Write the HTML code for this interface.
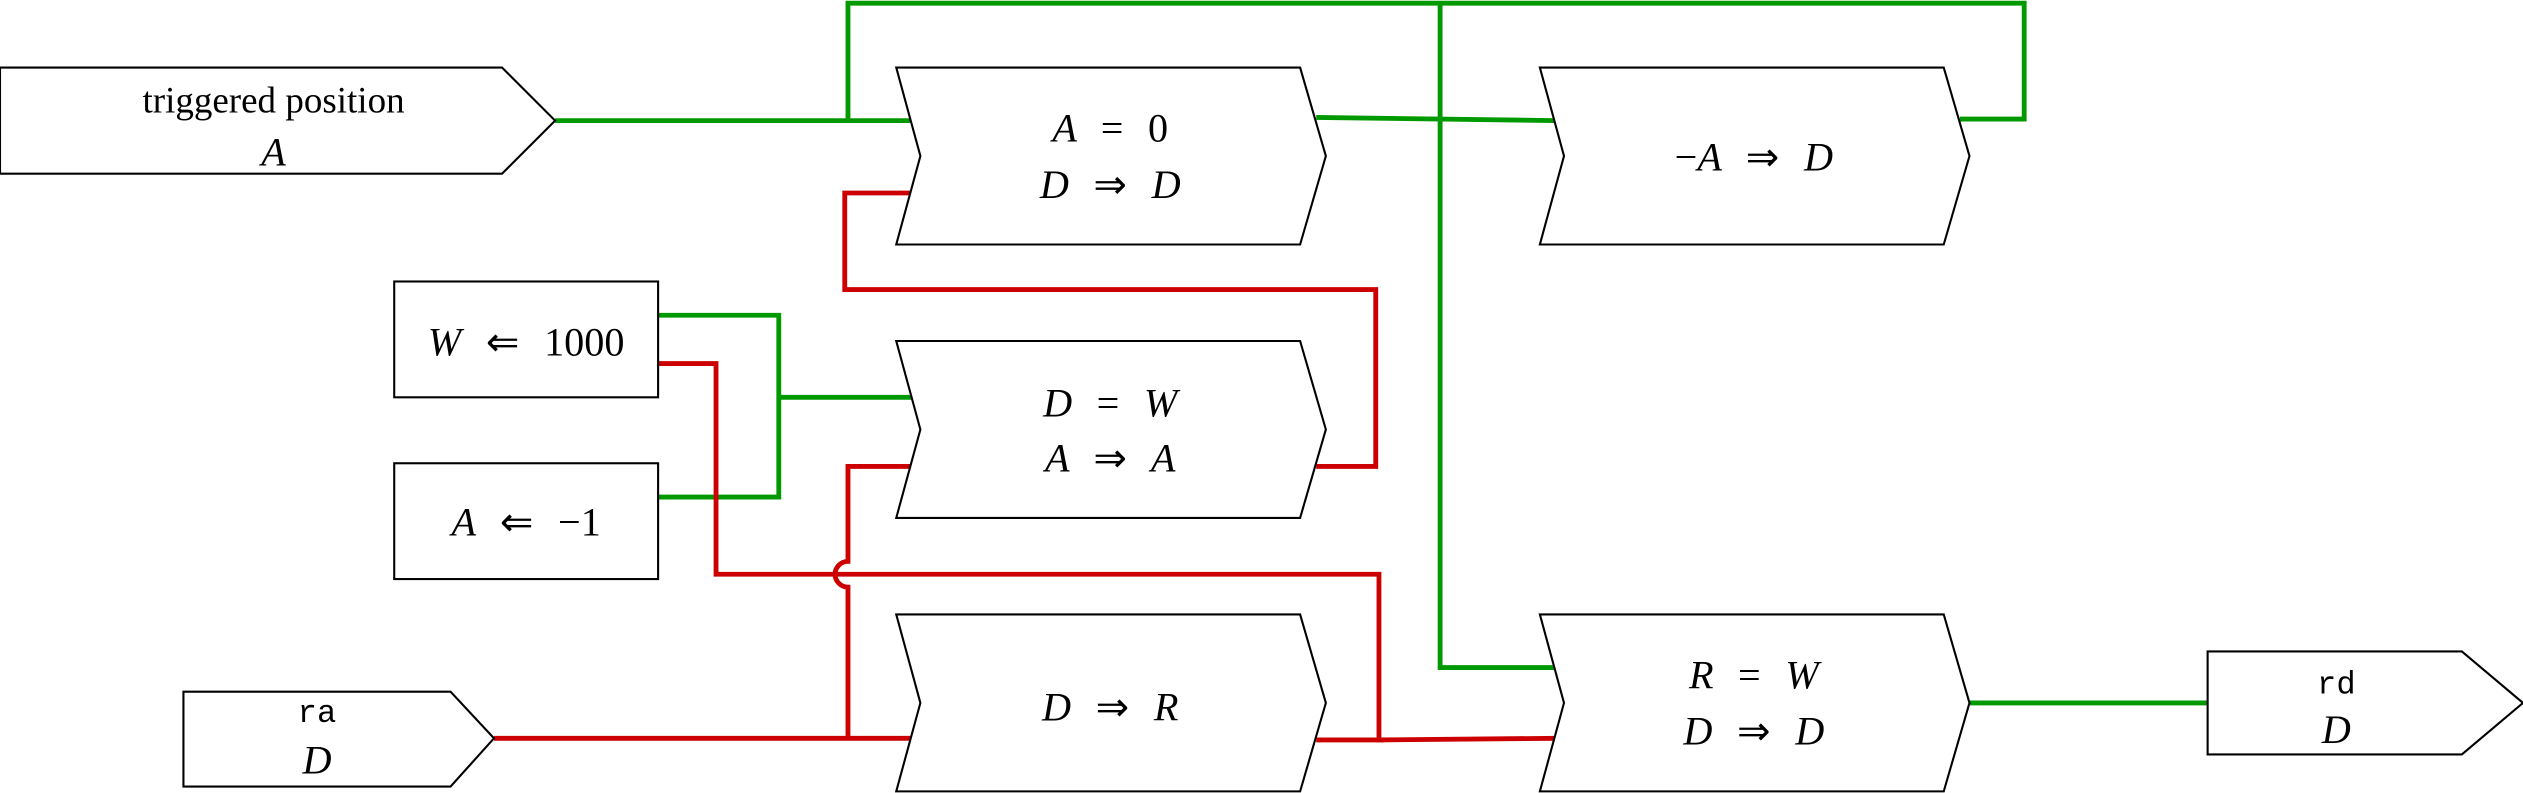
<!DOCTYPE html>
<html><head><meta charset="utf-8"><style>
html,body{margin:0;padding:0;background:#fff;}
svg{display:block;}
text{font-family:"Liberation Serif",serif;font-size:23px;fill:#000;}
.m{font-style:italic;font-size:25px;word-spacing:9px;}
.u{font-style:normal;}
.tt{font-family:"Liberation Mono",monospace;font-size:20px;}
.box{fill:#fff;stroke:#000;stroke-width:1.3;}
.g{fill:none;stroke:#009900;stroke-width:3;}
.r{fill:none;stroke:#cc0000;stroke-width:3;}
</style></head><body>
<svg width="2523" height="793" viewBox="0 0 1568 493" preserveAspectRatio="none">
<g>
<polyline class="g" points="345,75 567,75"/>
<polyline class="g" points="527,75 527,2 1258,2 1258,74 1218,74"/>
<polyline class="g" points="818,73 967,75"/>
<polyline class="g" points="895,2 895,415 967,415"/>
<polyline class="g" points="409,196 484,196 484,309 409,309"/>
<polyline class="g" points="484,247 567,247"/>
<polyline class="g" points="1224,437 1372,437"/>
</g>
<g>
<polyline class="r" points="567,120 525,120 525,180 855,180 855,290 818,290"/>
<polyline class="r" points="409,226 445,226 445,357 857,357 857,460 967,459"/>
<path class="r" d="M567,290 L527,290 L527,349 A8,8 0 0 0 527,365 L527,459"/>
<polyline class="r" points="307,459 567,459"/>
<polyline class="r" points="818,460 860,460"/>
</g>
<g>
<polygon class="box" points="0,42 312,42 345,75 312,108 0,108"/>
<text x="170" y="70" text-anchor="middle">triggered position</text>
<text x="170" y="103" text-anchor="middle" class="m">A</text>
</g>
<g>
<polygon class="box" points="557,42 808,42 824,97 808,152 557,152 572,97"/>
<text x="690" y="88" text-anchor="middle" class="m">A <tspan class="u">=</tspan> <tspan class="u">0</tspan></text>
<text x="690" y="123" text-anchor="middle" class="m">D <tspan class="u">⇒</tspan> D</text>
</g>
<g>
<polygon class="box" points="957,42 1208,42 1224,97 1208,152 957,152 972,97"/>
<text x="1090" y="106" text-anchor="middle" class="m"><tspan class="u">−</tspan>A <tspan class="u">⇒</tspan> D</text>
</g>
<g>
<rect class="box" x="245" y="175" width="164" height="72"/>
<text x="327" y="221" text-anchor="middle" class="m">W <tspan class="u">⇐ 1000</tspan></text>
</g>
<g>
<rect class="box" x="245" y="288" width="164" height="72"/>
<text x="327" y="333" text-anchor="middle" class="m">A <tspan class="u">⇐ −1</tspan></text>
</g>
<g>
<polygon class="box" points="557,212 808,212 824,267 808,322 557,322 572,267"/>
<text x="690" y="259" text-anchor="middle" class="m">D <tspan class="u">=</tspan> W</text>
<text x="690" y="293" text-anchor="middle" class="m">A <tspan class="u">⇒</tspan> A</text>
</g>
<g>
<polygon class="box" points="557,382 808,382 824,437 808,492 557,492 572,437"/>
<text x="690" y="448" text-anchor="middle" class="m">D <tspan class="u">⇒</tspan> R</text>
</g>
<g>
<polygon class="box" points="957,382 1208,382 1224,437 1208,492 957,492 972,437"/>
<text x="1090" y="428" text-anchor="middle" class="m">R <tspan class="u">=</tspan> W</text>
<text x="1090" y="463" text-anchor="middle" class="m">D <tspan class="u">⇒</tspan> D</text>
</g>
<g>
<polygon class="box" points="114,430 280,430 307,459 280,489 114,489"/>
<text x="197" y="449" text-anchor="middle" class="tt">ra</text>
<text x="197" y="481" text-anchor="middle" class="m">D</text>
</g>
<g>
<polygon class="box" points="1372,405 1530,405 1568,437 1530,469 1372,469"/>
<text x="1452" y="431" text-anchor="middle" class="tt">rd</text>
<text x="1452" y="462" text-anchor="middle" class="m">D</text>
</g>
</svg>
</body></html>
